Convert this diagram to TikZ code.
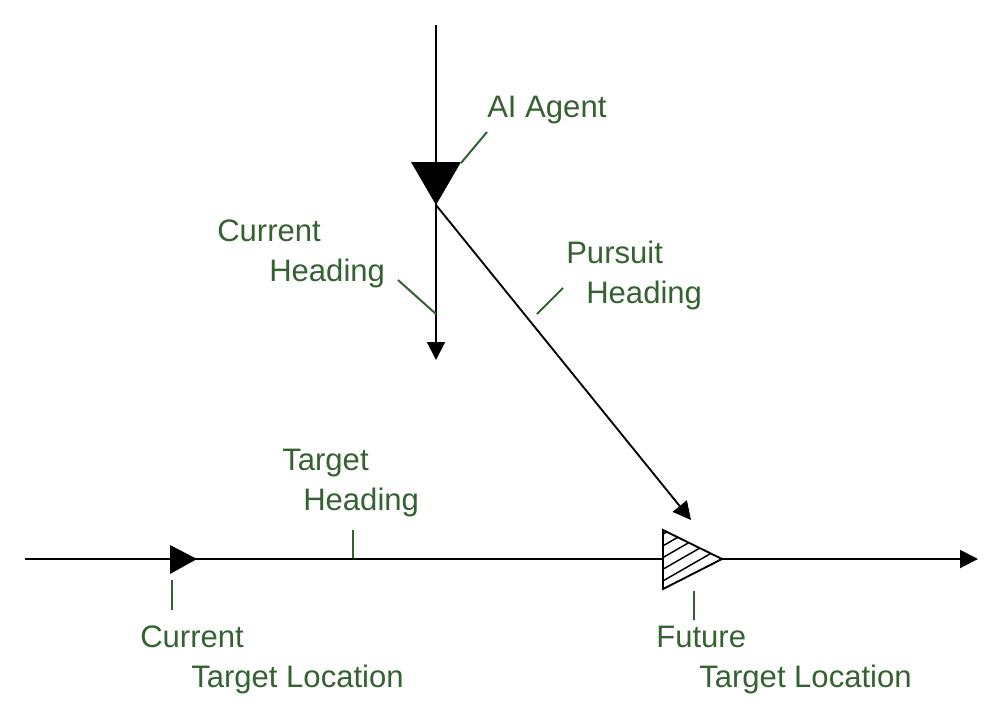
\documentclass[tikz,border=0pt]{standalone}
\usepackage{fontspec}
\setmainfont{Liberation Sans}
\usetikzlibrary{arrows.meta}
\definecolor{labgreen}{RGB}{52,98,48}
\begin{document}
\begin{tikzpicture}[x=0.75pt,y=-0.75pt,
  lbl/.style={text=labgreen, anchor=base west, inner sep=0pt, font=\fontsize{23.3}{28}\selectfont},
  leader/.style={draw=labgreen, line width=1.5pt},
  axis/.style={draw=black, line width=1.4pt},
  tip/.style={-{Triangle[length=13.5pt,width=13.5pt]}},
  marker/.style={draw=black, line width=1.4pt, line join=miter}]
\useasboundingbox (0,0) rectangle (1002,715);
% coordinates
\coordinate (top) at (436,25);
\coordinate (agentL) at (411,162);
\coordinate (agentR) at (461,162);
\coordinate (agent) at (436,205);
\coordinate (chEnd) at (436,360);
\coordinate (pEnd) at (691,520);
\coordinate (hStart) at (25,559);
\coordinate (hEnd) at (978,559);
\coordinate (ctA) at (170,545);
\coordinate (ctB) at (170,574);
\coordinate (ct) at (197,559);
\coordinate (ftA) at (663,530);
\coordinate (ftB) at (663,589);
\coordinate (ft) at (722,559);
% main lines
\draw[axis] (top) -- (agent);
\draw[axis,tip] (agent) -- (chEnd);
\draw[axis,tip] (agent) -- (pEnd);
\draw[axis,tip] (hStart) -- (hEnd);
% agent marker
\fill[black] (agentL) -- (agentR) -- (agent) -- cycle;
% current target marker
\fill[black] (ctA) -- (ct) -- (ctB) -- cycle;
% future target marker (hatched)
\fill[white] (ftA) -- (ft) -- (ftB) -- cycle;
\begin{scope}
\clip (ftA) -- (ft) -- (ftB) -- cycle;
\foreach \k in {0,...,8} {
  \draw[black, line width=1.1pt] (655,{527+11.7*\k}) -- (735,{527+11.7*\k-46});
}
\end{scope}
\draw[marker] (ftA) -- (ft) -- (ftB) -- cycle;
% labels
\node[lbl] (agentLbl) at (487,117) {AI Agent};
\node[lbl] (chLbl1) at (217,241) {Current};
\node[lbl] (chLbl2) at (269,281) {Heading};
\node[lbl] (phLbl1) at (566,263) {Pursuit};
\node[lbl] (phLbl2) at (586,303) {Heading};
\node[lbl] (thLbl1) at (282,470) {Target};
\node[lbl] (thLbl2) at (303,510) {Heading};
\node[lbl] (ctLbl1) at (140,647) {Current};
\node[lbl] (ctLbl2) at (191,687) {Target Location};
\node[lbl] (ftLbl1) at (656,647) {Future};
\node[lbl] (ftLbl2) at (699,687) {Target Location};
% leaders
\coordinate (la1) at (487,132); \coordinate (la2) at (461,163);
\draw[leader] (la1) -- (la2);
\coordinate (lc1) at (398,280); \coordinate (lc2) at (436,314);
\draw[leader] (lc1) -- (lc2);
\coordinate (lp1) at (563,288); \coordinate (lp2) at (537,314);
\draw[leader] (lp1) -- (lp2);
\coordinate (lt1) at (353,530); \coordinate (lt2) at (353,558);
\draw[leader] (lt1) -- (lt2);
\coordinate (lct1) at (172,580); \coordinate (lct2) at (172,610);
\draw[leader] (lct1) -- (lct2);
\coordinate (lft1) at (694,591); \coordinate (lft2) at (694,620);
\draw[leader] (lft1) -- (lft2);
\end{tikzpicture}
\end{document}
